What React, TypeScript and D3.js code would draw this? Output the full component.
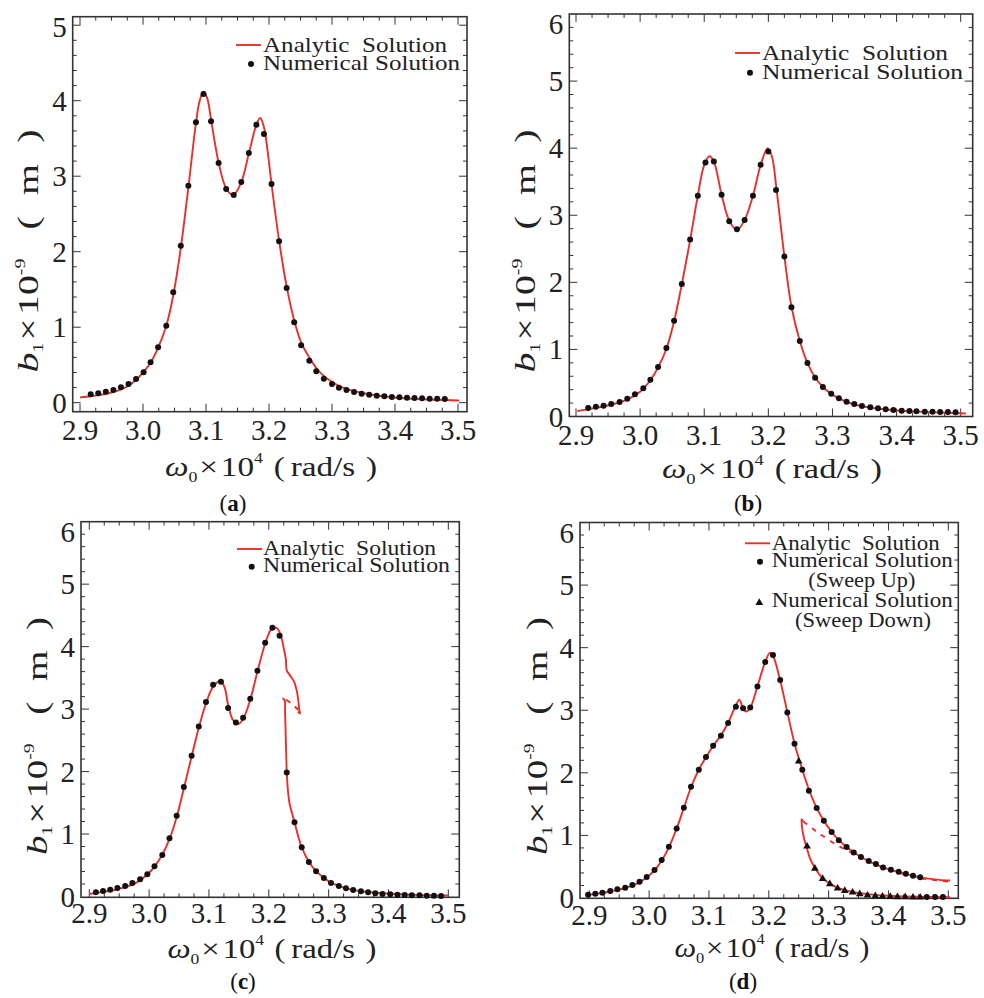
import React from 'react';
import * as d3 from 'd3';

type Pt = [number, number];

const xTickValues = [2.9, 3.0, 3.1, 3.2, 3.3, 3.4, 3.5];
const xTickLabels = ['2.9', '3.0', '3.1', '3.2', '3.3', '3.4', '3.5'];
const yTicksFive = [0, 1, 2, 3, 4, 5];
const yTicksSix = [0, 1, 2, 3, 4, 5, 6];

// ---------- panel (a) ----------
const curveA: Pt[] = [
  [2.9, 0.07], [2.917, 0.085], [2.93, 0.1], [2.945, 0.125], [2.96, 0.16], [2.975, 0.215], [2.99, 0.31],
  [3.0, 0.4], [3.012, 0.53], [3.024, 0.73], [3.037, 1.02], [3.048, 1.42], [3.06, 2.05], [3.072, 2.85],
  [3.084, 3.7], [3.09, 4.0], [3.096, 4.12], [3.102, 4.03], [3.108, 3.75], [3.12, 3.18], [3.132, 2.84],
  [3.143, 2.75], [3.156, 2.92], [3.168, 3.3], [3.18, 3.68], [3.186, 3.77], [3.192, 3.65], [3.198, 3.32],
  [3.204, 2.9], [3.216, 2.15], [3.228, 1.54], [3.24, 1.09], [3.251, 0.8], [3.264, 0.6], [3.275, 0.46],
  [3.287, 0.355], [3.3, 0.275], [3.32, 0.19], [3.35, 0.125], [3.38, 0.085], [3.42, 0.055], [3.46, 0.04], [3.502, 0.03],
];
const dotsA: Pt[] = [
  [2.917, 0.111], [2.929, 0.124], [2.941, 0.146], [2.953, 0.168], [2.965, 0.204], [2.977, 0.248], [2.989, 0.314],
  [3.001, 0.402], [3.012, 0.535], [3.024, 0.733], [3.037, 1.02], [3.048, 1.462], [3.06, 2.08], [3.072, 2.875],
  [3.084, 3.714], [3.096, 4.089], [3.108, 3.727], [3.12, 3.175], [3.132, 2.83], [3.144, 2.751], [3.156, 2.923],
  [3.168, 3.307], [3.18, 3.683], [3.192, 3.559], [3.204, 2.897], [3.216, 2.137], [3.228, 1.519], [3.24, 1.064],
  [3.251, 0.76], [3.264, 0.557], [3.275, 0.415], [3.287, 0.318], [3.3, 0.248], [3.311, 0.199], [3.323, 0.168],
  [3.335, 0.142], [3.347, 0.12], [3.359, 0.106], [3.371, 0.093], [3.383, 0.084], [3.395, 0.075], [3.407, 0.071],
  [3.419, 0.067], [3.431, 0.062], [3.443, 0.058], [3.455, 0.053], [3.467, 0.053], [3.479, 0.049],
];

// ---------- panel (b) ----------
const curveB: Pt[] = [
  [2.902, 0.08], [2.92, 0.11], [2.94, 0.145], [2.96, 0.19], [2.98, 0.255], [3.0, 0.37], [3.016, 0.54],
  [3.028, 0.73], [3.041, 1.01], [3.053, 1.42], [3.065, 1.97], [3.078, 2.63], [3.09, 3.29], [3.1, 3.75],
  [3.108, 3.88], [3.115, 3.8], [3.127, 3.31], [3.139, 2.92], [3.151, 2.78], [3.163, 2.93], [3.176, 3.29],
  [3.188, 3.75], [3.199, 4.0], [3.206, 3.86], [3.212, 3.45], [3.225, 2.39], [3.236, 1.64], [3.249, 1.13],
  [3.261, 0.8], [3.273, 0.58], [3.285, 0.44], [3.298, 0.34], [3.31, 0.27], [3.33, 0.19], [3.36, 0.13],
  [3.4, 0.09], [3.45, 0.065], [3.508, 0.045],
];
const dotsB: Pt[] = [
  [2.919, 0.127], [2.931, 0.147], [2.943, 0.162], [2.955, 0.187], [2.968, 0.216], [2.98, 0.266], [2.992, 0.33],
  [3.005, 0.42], [3.016, 0.549], [3.028, 0.737], [3.041, 1.02], [3.053, 1.427], [3.065, 1.977], [3.078, 2.637],
  [3.09, 3.292], [3.102, 3.788], [3.115, 3.802], [3.127, 3.307], [3.139, 2.91], [3.151, 2.791], [3.163, 2.93],
  [3.176, 3.292], [3.188, 3.753], [3.2, 3.951], [3.212, 3.376], [3.225, 2.384], [3.236, 1.63], [3.249, 1.124],
  [3.261, 0.797], [3.273, 0.578], [3.285, 0.439], [3.298, 0.34], [3.31, 0.271], [3.322, 0.221], [3.334, 0.187],
  [3.346, 0.157], [3.359, 0.137], [3.371, 0.122], [3.383, 0.107], [3.395, 0.097], [3.408, 0.087], [3.42, 0.082],
  [3.431, 0.077], [3.444, 0.072], [3.456, 0.072], [3.468, 0.067], [3.48, 0.067], [3.492, 0.062],
];

// ---------- panel (c) ----------
const curveCUpper: Pt[] = [
  [2.9, 0.04], [2.92, 0.07], [2.94, 0.1], [2.96, 0.15], [2.98, 0.23], [3.0, 0.38], [3.012, 0.52], [3.022, 0.67],
  [3.034, 0.92], [3.046, 1.27], [3.058, 1.73], [3.071, 2.24], [3.083, 2.7], [3.095, 3.09], [3.107, 3.36],
  [3.119, 3.45], [3.126, 3.35], [3.132, 3.07], [3.14, 2.83], [3.149, 2.76], [3.157, 2.84], [3.169, 3.15],
  [3.181, 3.6], [3.194, 4.05], [3.204, 4.28], [3.21, 4.31], [3.216, 4.27], [3.2215, 4.13], [3.2255, 3.95],
  [3.2285, 3.8], [3.23, 3.62], [3.2355, 3.54], [3.2422, 3.44], [3.2466, 3.3], [3.2493, 3.14], [3.251, 2.99],
  [3.2522, 2.93], [3.2485, 2.96],
];
const curveCUnstable: Pt[] = [[3.2495, 2.985], [3.239, 3.08], [3.227, 3.16]];
const curveCLower: Pt[] = [
  [3.2226, 3.17], [3.2262, 3.15], [3.2272, 2.95], [3.2282, 2.6], [3.2292, 2.25], [3.23, 1.99], [3.2318, 1.72],
  [3.2345, 1.5], [3.243, 1.19], [3.249, 0.97], [3.255, 0.79], [3.267, 0.555], [3.279, 0.405], [3.292, 0.3],
  [3.304, 0.22], [3.317, 0.17], [3.329, 0.13], [3.35, 0.09], [3.38, 0.06], [3.42, 0.035], [3.46, 0.022], [3.5, 0.015],
];
const dotsC: Pt[] = [
  [2.911, 0.067], [2.923, 0.088], [2.935, 0.109], [2.947, 0.136], [2.96, 0.168], [2.972, 0.216], [2.985, 0.275],
  [2.997, 0.355], [3.009, 0.483], [3.022, 0.664], [3.034, 0.931], [3.046, 1.293], [3.058, 1.752], [3.071, 2.253],
  [3.083, 2.723], [3.095, 3.112], [3.107, 3.389], [3.12, 3.437], [3.132, 3.016], [3.145, 2.787], [3.157, 2.861],
  [3.169, 3.165], [3.181, 3.613], [3.194, 4.061], [3.206, 4.301], [3.218, 4.173], [3.23, 1.987], [3.243, 1.187],
  [3.255, 0.787], [3.267, 0.552], [3.279, 0.403], [3.292, 0.296], [3.304, 0.216], [3.317, 0.168], [3.329, 0.131],
  [3.341, 0.104], [3.354, 0.083], [3.366, 0.067], [3.378, 0.051], [3.39, 0.04], [3.403, 0.035], [3.415, 0.029],
  [3.427, 0.024], [3.439, 0.019], [3.452, 0.019], [3.464, 0.013], [3.476, 0.013], [3.488, 0.008],
];

// ---------- panel (d) ----------
const curveDUpper: Pt[] = [
  [2.9, 0.05], [2.91, 0.065], [2.922, 0.08], [2.935, 0.105], [2.947, 0.13], [2.96, 0.16], [2.972, 0.2],
  [2.984, 0.25], [2.996, 0.33], [3.009, 0.44], [3.021, 0.6], [3.033, 0.81], [3.046, 1.11], [3.058, 1.44],
  [3.07, 1.77], [3.083, 2.05], [3.095, 2.25], [3.107, 2.43], [3.12, 2.6], [3.132, 2.8], [3.144, 3.06],
  [3.1508, 3.17], [3.156, 3.05], [3.162, 2.98], [3.169, 3.04], [3.181, 3.38], [3.194, 3.77], [3.202, 3.92],
  [3.207, 3.87], [3.219, 3.48], [3.231, 2.97], [3.243, 2.47], [3.256, 2.05], [3.268, 1.71], [3.28, 1.44],
  [3.292, 1.235], [3.305, 1.055], [3.317, 0.925], [3.33, 0.815], [3.342, 0.73], [3.354, 0.655], [3.367, 0.59],
  [3.379, 0.54], [3.391, 0.49], [3.404, 0.45], [3.417, 0.415], [3.429, 0.385], [3.441, 0.355], [3.453, 0.33],
  [3.47, 0.305], [3.485, 0.29], [3.503, 0.28],
];
const curveDUnstable: Pt[] = [
  [3.2577, 1.224], [3.2717, 1.118], [3.2856, 1.022], [3.3134, 0.851], [3.3413, 0.708], [3.3692, 0.575],
  [3.397, 0.468], [3.4249, 0.383], [3.4527, 0.319], [3.4806, 0.282], [3.5029, 0.26],
];
const curveDLower: Pt[] = [
  [3.2577, 1.22], [3.2549, 1.26], [3.256, 1.1], [3.259, 0.95], [3.263, 0.82], [3.269, 0.63], [3.2772, 0.48],
  [3.2895, 0.32], [3.3023, 0.23], [3.3146, 0.165], [3.3274, 0.125], [3.34, 0.095], [3.365, 0.062], [3.4, 0.035],
  [3.45, 0.02], [3.503, 0.012],
];
const dotsDUp: Pt[] = [
  [2.898, 0.053], [2.91, 0.069], [2.922, 0.085], [2.935, 0.111], [2.947, 0.138], [2.96, 0.165], [2.972, 0.207],
  [2.984, 0.26], [2.996, 0.335], [3.009, 0.447], [3.021, 0.607], [3.033, 0.819], [3.046, 1.112], [3.058, 1.443],
  [3.07, 1.778], [3.083, 2.05], [3.095, 2.252], [3.107, 2.433], [3.12, 2.593], [3.132, 2.795], [3.145, 3.056],
  [3.157, 3.03], [3.169, 3.045], [3.181, 3.381], [3.194, 3.77], [3.207, 3.881], [3.219, 3.482], [3.231, 2.965],
  [3.243, 2.465], [3.256, 2.05], [3.267, 1.714], [3.28, 1.437], [3.292, 1.235], [3.305, 1.054], [3.317, 0.921],
  [3.33, 0.814], [3.342, 0.729], [3.354, 0.654], [3.367, 0.591], [3.379, 0.543], [3.391, 0.489], [3.404, 0.452],
  [3.417, 0.42], [3.429, 0.388], [3.441, 0.356], [3.453, 0.33], [3.464, 0.015], [3.478, 0.015], [3.491, 0.015],
];
const trianglesDDown: Pt[] = [
  [3.25, 2.183], [3.264, 0.825], [3.277, 0.473], [3.29, 0.308], [3.302, 0.223], [3.315, 0.154], [3.327, 0.117],
  [3.34, 0.09], [3.352, 0.063], [3.365, 0.042], [3.378, 0.031], [3.39, 0.026], [3.403, 0.021], [3.415, 0.015],
  [3.428, 0.015], [3.441, 0.01], [3.453, 0.01],
];

const legendAnalytic = 'Analytic  Solution';
const legendNumerical = 'Numerical Solution';
const legendSweepUp = '(Sweep Up)';
const legendSweepDown = '(Sweep Down)';

const RED = '#e8302a';
const FRAME = '#333333';
const FONT = '"Liberation Serif", "Times New Roman", serif';

interface Layout {
  fx0: number; fx1: number; fy0: number; fy1: number;
  x29: number; x35: number; yZero: number; yTop: number; yTopVal: number;
  yTicks: number[];
  tickLabelBase: number;
  yLabelX: number; yLabelY: number; yLabelLen: number;
  xLabelX: number; xLabelY: number; xLabelLen: number;
  capX: number; capY: number; cap: string;
}

interface Series { pts: Pt[]; dashed?: boolean }

interface LegendItem { kind: 'line' | 'dot' | 'tri' | 'none'; mx: number; my: number; tx: number; ty: number; text: string; len: number; fs: number }

function Panel({ L, curves, dots, tris, legend }: { L: Layout; curves: Series[]; dots: Pt[]; tris: Pt[]; legend: LegendItem[] }) {
  const x = d3.scaleLinear().domain([2.9, 3.5]).range([L.x29, L.x35]);
  const y = d3.scaleLinear().domain([0, L.yTopVal]).range([L.yZero, L.yTop]);
  const line = d3.line<Pt>().x(d => x(d[0])).y(d => y(d[1])).curve(d3.curveCatmullRom.alpha(0.5));
  const tri = d3.symbol().type(d3.symbolTriangle).size(26)();

  const xMinor = d3.range(2.9, 3.5001, 0.025).filter(v => x(v) > L.fx0 + 1 && x(v) < L.fx1 - 1);
  const yMinor = d3.range(0, L.yTopVal + 0.001, 0.2).filter(v => y(v) < L.fy1 - 1 && y(v) > L.fy0 + 1);
  const isMajorX = (v: number) => Math.abs(v * 10 - Math.round(v * 10)) < 1e-6;
  const isMajorY = (v: number) => Math.abs(v - Math.round(v)) < 1e-6;

  return (
    <g>
      {xMinor.map((v, i) => {
        const len = isMajorX(v) ? 8 : 4;
        return (
          <g key={'xt' + i}>
            <line x1={x(v)} x2={x(v)} y1={L.fy1} y2={L.fy1 - len} stroke={FRAME} strokeWidth={1} />
            <line x1={x(v)} x2={x(v)} y1={L.fy0} y2={L.fy0 + len} stroke={FRAME} strokeWidth={1} />
          </g>
        );
      })}
      {yMinor.map((v, i) => {
        const len = isMajorY(v) ? 8 : 4;
        return (
          <g key={'yt' + i}>
            <line x1={L.fx0} x2={L.fx0 + len} y1={y(v)} y2={y(v)} stroke={FRAME} strokeWidth={1} />
            <line x1={L.fx1} x2={L.fx1 - len} y1={y(v)} y2={y(v)} stroke={FRAME} strokeWidth={1} />
          </g>
        );
      })}
      <rect x={L.fx0} y={L.fy0} width={L.fx1 - L.fx0} height={L.fy1 - L.fy0} fill="none" stroke={FRAME} strokeWidth={1.6} />

      {xTickValues.map((v, i) => (
        <text key={'xl' + i} x={x(v)} y={L.tickLabelBase} textAnchor="middle" fontFamily={FONT} fontSize={29} fill="#222">{xTickLabels[i]}</text>
      ))}
      {L.yTicks.map(v => (
        <text key={'yl' + v} x={L.fx0 - 6} y={Math.max(y(v) + 10, L.fy0 + 20)} textAnchor="end" fontFamily={FONT} fontSize={29} fill="#222">{v}</text>
      ))}

      {curves.map((c, i) => (
        <path key={'c' + i} d={line(c.pts) || ''} fill="none" stroke={RED} strokeWidth={1.9}
          strokeDasharray={c.dashed ? '5,6' : undefined} />
      ))}
      {dots.map((d, i) => (
        <circle key={'d' + i} cx={x(d[0])} cy={y(d[1])} r={3} fill="#111" />
      ))}
      {tris.map((d, i) => (
        <path key={'t' + i} d={tri || ''} transform={`translate(${x(d[0])},${y(d[1])})`} fill="#111" />
      ))}

      {legend.map((it, i) => (
        <g key={'lg' + i}>
          {it.kind === 'line' && <line x1={it.mx - 13} x2={it.mx + 12} y1={it.my} y2={it.my} stroke={RED} strokeWidth={1.9} />}
          {it.kind === 'dot' && <circle cx={it.mx} cy={it.my} r={3} fill="#111" />}
          {it.kind === 'tri' && <path d={tri || ''} transform={`translate(${it.mx},${it.my})`} fill="#111" />}
          <text x={it.tx} y={it.ty} fontFamily={FONT} fontSize={it.fs} fill="#222" textLength={it.len} lengthAdjust="spacingAndGlyphs" style={{ whiteSpace: 'pre' }}>{it.text}</text>
        </g>
      ))}

      <text transform={`translate(${L.yLabelX},${L.yLabelY}) rotate(-90)`} textAnchor="middle" fontFamily={FONT} fontSize={30} fill="#222"
        textLength={L.yLabelLen} lengthAdjust="spacingAndGlyphs">
        <tspan fontStyle="italic">b</tspan>
        <tspan fontSize={15} dy={5}>1</tspan>
        <tspan dy={-5} dx={1.5}>×</tspan>
        <tspan dx={2.5}>10</tspan>
        <tspan fontSize={15} dy={-13}>-9</tspan>
        <tspan dy={13} dx={22}>(</tspan>
        <tspan dx={16}>m</tspan>
        <tspan dx={16}>)</tspan>
      </text>
      <text x={L.xLabelX} y={L.xLabelY} textAnchor="middle" fontFamily={FONT} fontSize={28} fill="#222"
        textLength={L.xLabelLen} lengthAdjust="spacingAndGlyphs">
        <tspan fontStyle="italic">ω</tspan>
        <tspan fontSize={15} dy={6}>0</tspan>
        <tspan dy={-6} dx={1.5}>×</tspan>
        <tspan dx={2.5}>10</tspan>
        <tspan fontSize={15} dy={-13}>4</tspan>
        <tspan dy={13} dx={9}>(</tspan>
        <tspan dx={5}>rad/s</tspan>
        <tspan dx={9}>)</tspan>
      </text>
      <text x={L.capX} y={L.capY} textAnchor="middle" fontFamily={FONT} fontSize={23} fill="#111">
        (<tspan fontWeight="bold">{L.cap}</tspan>)
      </text>
    </g>
  );
}

const layoutA: Layout = {
  fx0: 72.7, fx1: 467, fy0: 16.7, fy1: 411.7, x29: 80, x35: 458, yZero: 402.7, yTop: 25.2, yTopVal: 5,
  yTicks: yTicksFive, tickLabelBase: 440, yLabelX: 38, yLabelY: 251, yLabelLen: 243,
  xLabelX: 271, xLabelY: 476, xLabelLen: 212, capX: 233, capY: 511, cap: 'a',
};
const layoutB: Layout = {
  fx0: 569.3, fx1: 972.7, fy0: 14, fy1: 416.5, x29: 576, x35: 960.7, yZero: 416.5, yTop: 14, yTopVal: 6,
  yTicks: yTicksSix, tickLabelBase: 445, yLabelX: 535, yLabelY: 251, yLabelLen: 243,
  xLabelX: 772, xLabelY: 478, xLabelLen: 220, capX: 748, capY: 511, cap: 'b',
};
const layoutC: Layout = {
  fx0: 81, fx1: 459.3, fy0: 521.7, fy1: 897.3, x29: 89.3, x35: 448.3, yZero: 896.5, yTop: 521.7, yTopVal: 6,
  yTicks: yTicksSix, tickLabelBase: 923, yLabelX: 47, yLabelY: 736, yLabelLen: 238,
  xLabelX: 272, xLabelY: 958, xLabelLen: 209, capX: 243, capY: 989, cap: 'c',
};
const layoutD: Layout = {
  fx0: 580, fx1: 958.3, fy0: 522.5, fy1: 898.3, x29: 589.3, x35: 948.3, yZero: 898, yTop: 522.5, yTopVal: 6,
  yTicks: yTicksSix, tickLabelBase: 925, yLabelX: 547, yLabelY: 736, yLabelLen: 238,
  xLabelX: 772, xLabelY: 957, xLabelLen: 195, capX: 743, capY: 989, cap: 'd',
};

const legendA: LegendItem[] = [
  { kind: 'line', mx: 249, my: 45, tx: 263, ty: 52, text: legendAnalytic, len: 184, fs: 22 },
  { kind: 'dot', mx: 251, my: 64, tx: 263, ty: 70, text: legendNumerical, len: 197, fs: 22 },
];
const legendB: LegendItem[] = [
  { kind: 'line', mx: 748, my: 53, tx: 762, ty: 60, text: legendAnalytic, len: 186, fs: 22 },
  { kind: 'dot', mx: 750, my: 72.7, tx: 762, ty: 78.5, text: legendNumerical, len: 201, fs: 22 },
];
const legendC: LegendItem[] = [
  { kind: 'line', mx: 250, my: 549, tx: 263, ty: 555, text: legendAnalytic, len: 173, fs: 21 },
  { kind: 'dot', mx: 251.7, my: 566.7, tx: 263, ty: 572, text: legendNumerical, len: 187, fs: 21 },
];
const legendD: LegendItem[] = [
  { kind: 'line', mx: 758, my: 543.3, tx: 771.7, ty: 550, text: legendAnalytic, len: 168, fs: 21 },
  { kind: 'dot', mx: 760, my: 561.7, tx: 771.7, ty: 567, text: legendNumerical, len: 181, fs: 21 },
  { kind: 'none', mx: 0, my: 0, tx: 808.3, ty: 586.5, text: legendSweepUp, len: 107, fs: 21 },
  { kind: 'tri', mx: 759.3, my: 602.7, tx: 771.7, ty: 607, text: legendNumerical, len: 181, fs: 21 },
  { kind: 'none', mx: 0, my: 0, tx: 795, ty: 627, text: legendSweepDown, len: 136, fs: 21 },
];

export default function App() {
  return (
    <svg width={984} height={998} viewBox="0 0 984 998" style={{ display: 'block', position: 'absolute', left: 0, top: 0, background: '#fff' }}>
      <rect x={0} y={0} width={984} height={998} fill="#fff" />
      <Panel L={layoutA} curves={[{ pts: curveA }]} dots={dotsA} tris={[]} legend={legendA} />
      <Panel L={layoutB} curves={[{ pts: curveB }]} dots={dotsB} tris={[]} legend={legendB} />
      <Panel L={layoutC} curves={[{ pts: curveCUpper }, { pts: curveCUnstable, dashed: true }, { pts: curveCLower }]} dots={dotsC} tris={[]} legend={legendC} />
      <Panel L={layoutD} curves={[{ pts: curveDUpper }, { pts: curveDUnstable, dashed: true }, { pts: curveDLower }]} dots={dotsDUp} tris={trianglesDDown} legend={legendD} />
    </svg>
  );
}
